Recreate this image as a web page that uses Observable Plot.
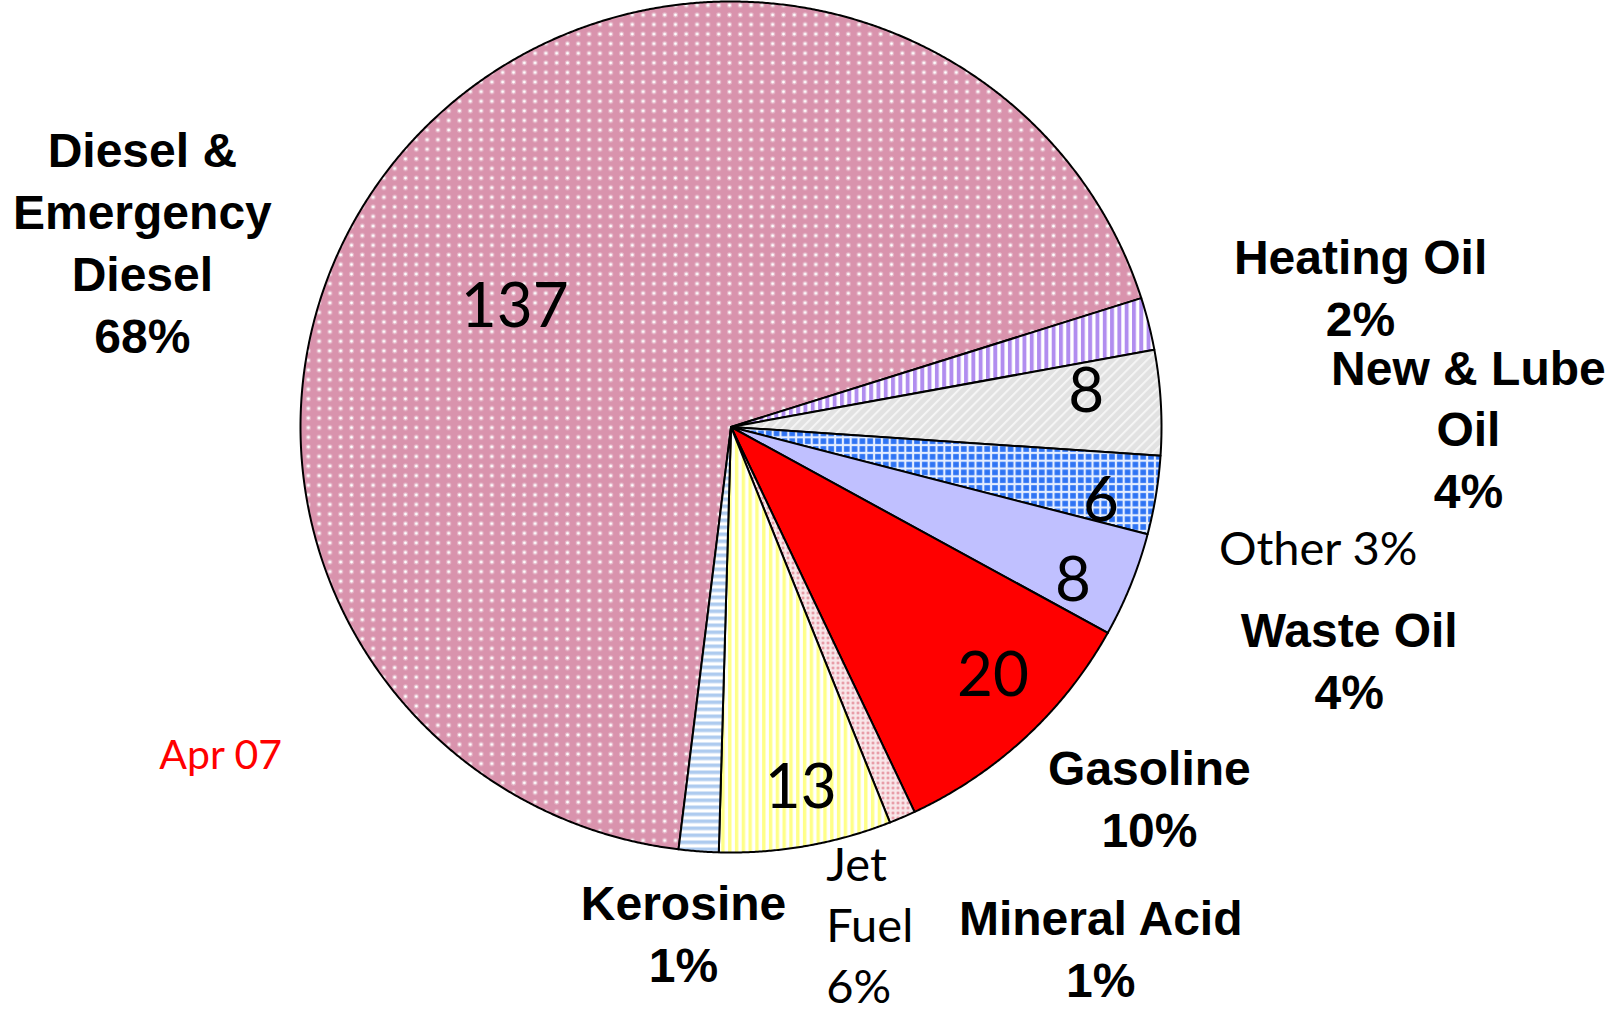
<!DOCTYPE html>
<html><head><meta charset="utf-8">
<script src="https://cdn.jsdelivr.net/npm/d3@7"></script>
<script src="https://cdn.jsdelivr.net/npm/@observablehq/plot@0.6"></script>
<style>
html,body{margin:0;padding:0;background:#fff;}
#chart{width:1623px;height:1014px;overflow:hidden;}
</style>
</head><body>
<svg width="0" height="0" style="position:absolute">
<defs>
 <pattern id="p-diesel" width="10.8" height="9.6" patternUnits="userSpaceOnUse">
  <rect width="10.8" height="9.6" fill="#D993AD"/>
  <circle cx="5.4" cy="4.8" r="2.6" fill="#fff" opacity="0.3"/>
  <circle cx="5.4" cy="4.8" r="1.4" fill="#fff"/>
 </pattern>
 <pattern id="p-heat" width="7.3" height="10" patternUnits="userSpaceOnUse">
  <rect width="7.3" height="10" fill="#fff"/>
  <rect width="3.9" height="10" fill="#B18DEF"/>
 </pattern>
 <pattern id="p-lube" width="7" height="7" patternUnits="userSpaceOnUse" patternTransform="rotate(45)">
  <rect width="7" height="7" fill="#E2E2E2"/>
  <rect width="1.8" height="7" fill="#F7F7F7"/>
 </pattern>
 <pattern id="p-other" width="7.8" height="7.8" patternUnits="userSpaceOnUse">
  <rect width="7.8" height="7.8" fill="#E4EDFF"/>
  <rect x="1.1" y="1.1" width="5.6" height="5.6" fill="#2F74F4"/>
 </pattern>
 <pattern id="p-min" width="5" height="5" patternUnits="userSpaceOnUse">
  <rect width="5" height="5" fill="#F8E6E9"/>
  <circle cx="2.5" cy="2.5" r="1.2" fill="#E07888"/>
 </pattern>
 <pattern id="p-jet" width="6.8" height="10" patternUnits="userSpaceOnUse">
  <rect width="6.8" height="10" fill="#fff"/>
  <rect width="3.4" height="10" fill="#FFFF88"/>
 </pattern>
 <pattern id="p-ker" width="10" height="7" patternUnits="userSpaceOnUse">
  <rect width="10" height="7" fill="#fff"/>
  <rect width="10" height="3.6" fill="#AECBEF"/>
 </pattern>
</defs>
</svg>
<div id="chart"></div>
<script>
// ---------- data ----------
const categories = ["Diesel & Emergency Diesel","Heating Oil","New & Lube Oil","Other","Waste Oil","Gasoline","Mineral Acid","Jet Fuel","Kerosine"];
const values = [137, 4, 8, 6, 8, 20, 2, 13, 3];
const labelLines = ["Diesel &\nEmergency\nDiesel","Heating Oil","New & Lube\nOil","Other","Waste Oil","Gasoline","Mineral Acid","Jet\nFuel","Kerosine"];
const valueLabelled = ["Diesel & Emergency Diesel","New & Lube Oil","Other","Waste Oil","Gasoline","Jet Fuel"];
const annotations = ["Apr 07"];

// ---------- styles & layout (kept apart from data) ----------
const fills = {
  "Diesel & Emergency Diesel": "url(#p-diesel)",
  "Heating Oil": "url(#p-heat)",
  "New & Lube Oil": "url(#p-lube)",
  "Other": "url(#p-other)",
  "Waste Oil": "#C0C0FF",
  "Gasoline": "#FF0000",
  "Mineral Acid": "url(#p-min)",
  "Jet Fuel": "url(#p-jet)",
  "Kerosine": "url(#p-ker)"
};
const startDeg = 187;
// value label placement: angle shift from slice middle (deg) and radius (fraction of pie radius)
const valuePlace = {
  "Diesel & Emergency Diesel": {da: -10.4, r: 0.576},
  "New & Lube Oil": {da: -2.4, r: 0.829},
  "Other": {da: 2.3, r: 0.877},
  "Waste Oil": {da: 2.7, r: 0.873},
  "Gasoline": {da: -3.0, r: 0.844},
  "Jet Fuel": {da: -0.8, r: 0.864}
};
// category label placement
const labelPlace = {
  "Diesel & Emergency Diesel": {da: -22.4, r: 1.432, group: "bold", sep: "\n"},
  "Heating Oil": {da: 1.7, r: 1.497, group: "bold", sep: "\n"},
  "New & Lube Oil": {da: 3.7, r: 1.713, group: "bold", sep: "\n"},
  "Other": {da: 2.7, r: 1.394, group: "plain", sep: " "},
  "Waste Oil": {da: -0.6, r: 1.540, group: "bold", sep: "\n"},
  "Gasoline": {da: -4.7, r: 1.311, group: "bold", sep: "\n"},
  "Mineral Acid": {da: -11.4, r: 1.503, group: "bold", sep: "\n"},
  "Jet Fuel": {da: -0.5, r: 1.213, group: "plainStart", sep: "\n"},
  "Kerosine": {da: 0.95, r: 1.202, group: "bold", sep: "\n"}
};
const notePlace = {da: 236.9, r: 1.415}; // polar position of the "Apr 07" note

// ---------- geometry ----------
const rad = d => d * Math.PI / 180;
const polar = (a, r) => ({x: r * Math.sin(a), y: r * Math.cos(a)});
const total = d3.sum(values);
const arcs = d3.pie().sort(null).startAngle(rad(startDeg)).endAngle(rad(startDeg + 360))(values);
const slices = arcs.map((p, i) => ({
  name: categories[i], value: values[i], label: labelLines[i],
  a0: p.startAngle, a1: p.endAngle, mid: (p.startAngle + p.endAngle) / 2,
  pct: Math.round(values[i] / total * 100) + "%"
}));
function slicePoints(s) {
  const pts = [{x: 0, y: 0}];
  const n = Math.max(2, Math.ceil((s.a1 - s.a0) / rad(0.25)));
  for (let k = 0; k <= n; k++) pts.push(polar(s.a0 + (s.a1 - s.a0) * k / n, 1));
  return pts;
}

const valueData = slices.filter(s => valueLabelled.includes(s.name)).map(s => {
  const p = valuePlace[s.name];
  return {...polar(s.mid + rad(p.da), p.r), text: String(s.value)};
});
const labelData = slices.map(s => {
  const p = labelPlace[s.name];
  return {...polar(s.mid + rad(p.da), p.r), text: s.label + p.sep + s.pct, group: p.group};
});
const noteData = annotations.map(t => ({...polar(rad(notePlace.da), notePlace.r), text: t}));

const BOLD = "'Liberation Sans', Arial, sans-serif";
const PLAIN = "Lato, 'Open Sans', sans-serif";

const marks = [
  ...slices.map(s => Plot.line(slicePoints(s), {
    x: "x", y: "y", fill: fills[s.name], stroke: "black", strokeWidth: 2,
    curve: "linear-closed", strokeLinejoin: "round"
  })),
  Plot.text(valueData, {x: "x", y: "y", text: "text", fontSize: 62, fontFamily: PLAIN, fill: "black"}),
  Plot.text(labelData.filter(d => d.group === "bold"), {
    x: "x", y: "y", text: "text", fontSize: 48, fontWeight: "bold", fontFamily: BOLD,
    lineHeight: 1.29, fill: "black", textAnchor: "middle", dy: -5.5
  }),
  Plot.text(labelData.filter(d => d.group === "plain"), {
    x: "x", y: "y", text: "text", fontSize: 47, fontFamily: PLAIN, fill: "black", textAnchor: "middle"
  }),
  Plot.text(labelData.filter(d => d.group === "plainStart"), {
    x: "x", y: "y", text: "text", fontSize: 47, fontFamily: PLAIN, lineHeight: 1.3,
    fill: "black", textAnchor: "start", dy: -12
  }),
  Plot.text(noteData, {x: "x", y: "y", text: "text", fontSize: 41, fontFamily: PLAIN, fill: "#FF0000"})
];

const chart = Plot.plot({
  width: 1623, height: 1014,
  marginLeft: 300, marginRight: 462, marginTop: 1, marginBottom: 162,
  x: {domain: [-1, 1], axis: null},
  y: {domain: [-1, 1], axis: null},
  style: {background: "white", overflow: "visible"},
  marks
});
document.getElementById("chart").appendChild(chart);
</script>
</body></html>
